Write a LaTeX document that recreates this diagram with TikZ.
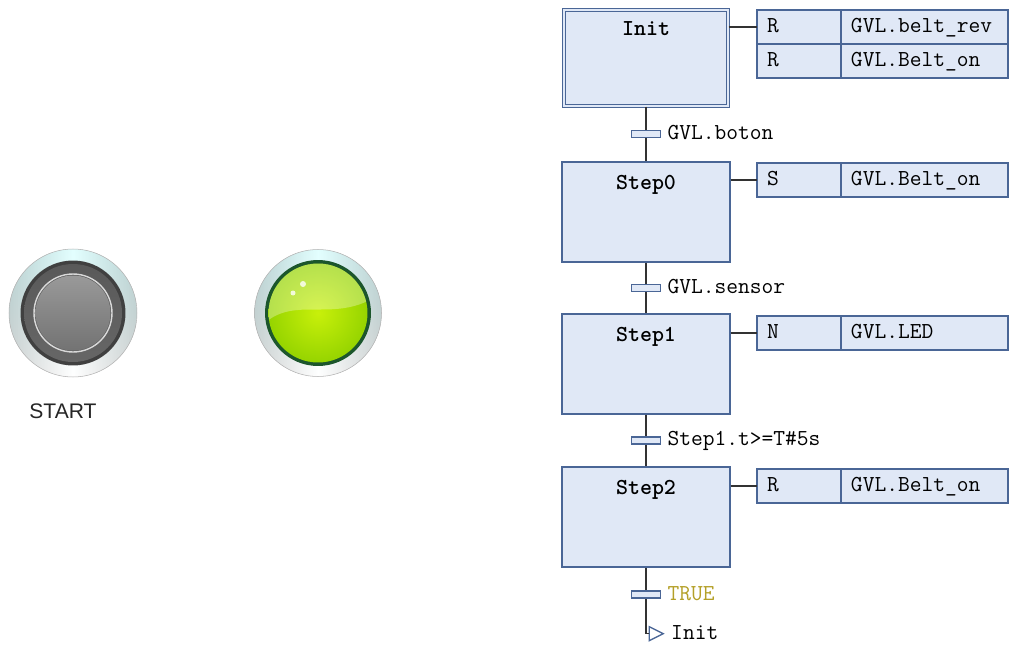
\documentclass[tikz,border=0pt]{standalone}
\usepackage{fontspec}
\setmainfont{Liberation Sans}
\setsansfont{Liberation Sans}
\usepackage{tikz}
\usetikzlibrary{arrows.meta, positioning, shapes.geometric, calc}
\definecolor{sfcfill}{RGB}{224,232,246}
\definecolor{sfcline}{RGB}{74,102,150}
\definecolor{wirecol}{RGB}{50,50,50}
\definecolor{truecol}{RGB}{180,160,40}
\definecolor{leddark}{RGB}{28,86,44}
\definecolor{ledmid}{RGB}{200,240,10}
\definecolor{lededge}{RGB}{150,212,0}
\newcommand{\acttext}{\ttfamily\fontsize{13}{15}\selectfont}

\begin{document}
\begin{tikzpicture}[x=0.02cm, y=-0.02cm,
  stepbox/.style={draw=sfcline, line width=0.8pt, fill=sfcfill, minimum width=3.36cm, minimum height=2cm, inner sep=0pt},
  initbox/.style={stepbox, line width=0.75pt, double=sfcfill, double distance=0.9pt, minimum width=3.28cm, minimum height=1.92cm},
  stepname/.style={font=\acttext\bfseries, text=black, inner sep=0pt, anchor=base},
  qual/.style={draw=sfcline, line width=0.7pt, fill=sfcfill, minimum height=0.68cm, text width=1.28cm, inner xsep=0.2cm, inner ysep=0pt, outer sep=0pt, align=left, font=\acttext, text=black, text height=1.6ex, text depth=0.45ex},
  actname/.style={qual, text width=2.94cm},
  trans/.style={draw=sfcline, line width=0.8pt, fill=sfcfill, minimum width=0.58cm, minimum height=0.14cm, inner sep=0pt},
  translabel/.style={font=\acttext, text=black, inner sep=0pt, anchor=west, text height=1.6ex, text depth=0.45ex},
  jumptri/.style={isosceles triangle, isosceles triangle stretches, draw=sfcline, line width=0.75pt, fill=white, minimum width=0.28cm, minimum height=0.28cm, inner sep=0pt},
  wire/.style={draw=wirecol, line width=0.9pt}
]
  \useasboundingbox (0,0) rectangle (1010,645);

  % START push button
  \shade[left color=gray!65, right color=gray!65, middle color=white] (73,313) circle [radius=1.28cm];
  \shade[top color=cyan!25!white, bottom color=white, opacity=0.45] (73,313) circle [radius=1.28cm];
  \draw[gray!60, line width=0.3pt] (73,313) circle [radius=1.28cm];
  \fill[black!75] (73,313) circle [radius=1.05cm];
  \shade[top color=gray!70!black, bottom color=gray!80!black] (73,313) circle [radius=0.98cm];
  \draw[gray!30, line width=0.8pt] (73,313) circle [radius=0.78cm];
  \shade[top color=gray!80, bottom color=gray!90!black] (73,313) circle [radius=0.75cm];
  \node[font=\sffamily\fontsize{12}{14}\selectfont, text=black!85] (startl) at (63,411) {START};

  % Green lamp
  \shade[left color=gray!65, right color=gray!65, middle color=white] (318,313) circle [radius=1.27cm];
  \shade[top color=cyan!25!white, bottom color=white, opacity=0.45] (318,313) circle [radius=1.27cm];
  \draw[gray!60, line width=0.3pt] (318,313) circle [radius=1.27cm];
  \fill[leddark] (318,313) circle [radius=1.06cm];
  \shade[inner color=ledmid, outer color=lededge] (318,313) circle [radius=0.99cm];
  \begin{scope}
    \clip (318,313) circle [radius=0.99cm];
    \fill[white, opacity=0.3] (266,322) .. controls (295,298) and (330,320) .. (370,300) -- (370,250) -- (266,250) -- cycle;
  \end{scope}
  \fill[white, opacity=0.8] (293,293) circle [radius=0.05cm];
  \fill[white, opacity=0.8] (303,284) circle [radius=0.06cm];

  % Steps
  \node[initbox] (init) at (646,58) {};
  \node[stepname] (initn) at ([yshift=-0.52cm]init.north) {Init};
  \node[stepbox] (s0) at (646,212) {};
  \node[stepname] (s0n) at ([yshift=-0.57cm]s0.north) {Step0};
  \node[stepbox] (s1) at (646,364) {};
  \node[stepname] (s1n) at ([yshift=-0.57cm]s1.north) {Step1};
  \node[stepbox] (s2) at (646,517) {};
  \node[stepname] (s2n) at ([yshift=-0.57cm]s2.north) {Step2};

  % Actions
  \node[qual, anchor=north west] (ia1) at (757,10) {R};
  \node[actname, right=0pt of ia1] (ia1v) {GVL.belt\_rev};
  \node[qual, below=0pt of ia1] (ia2) {R};
  \node[actname, right=0pt of ia2] (ia2v) {GVL.Belt\_on};
  \node[qual, anchor=north west] (a0) at (757,163) {S};
  \node[actname, right=0pt of a0] (a0v) {GVL.Belt\_on};
  \node[qual, anchor=north west] (a1) at (757,316) {N};
  \node[actname, right=0pt of a1] (a1v) {GVL.LED};
  \node[qual, anchor=north west] (a2) at (757,469) {R};
  \node[actname, right=0pt of a2] (a2v) {GVL.Belt\_on};
  \draw[wire] (init.east |- ia1.west) -- (ia1.west);
  \draw[wire] (s0.east |- a0.west) -- (a0.west);
  \draw[wire] (s1.east |- a1.west) -- (a1.west);
  \draw[wire] (s2.east |- a2.west) -- (a2.west);

  % Links and transitions
  \coordinate (jmp) at ([yshift=-1.32cm]s2.south);
  \draw[wire] (init.south) -- (s0.north);
  \draw[wire] (s0.south) -- (s1.north);
  \draw[wire] (s1.south) -- (s2.north);
  \node[jumptri, anchor=west] (jt) at ([xshift=0.05cm]jmp) {};
  \draw[wire] (s2.south) -- (jmp) -- (jt.west);
  \node[trans] (t0) at ($(init.south)!0.5!(s0.north)$) {};
  \node[translabel, right=0.12cm of t0] (t0l) {GVL.boton};
  \node[trans] (t1) at ($(s0.south)!0.5!(s1.north)$) {};
  \node[translabel, right=0.12cm of t1] (t1l) {GVL.sensor};
  \node[trans] (t2) at ($(s1.south)!0.5!(s2.north)$) {};
  \node[translabel, right=0.12cm of t2] (t2l) {Step1.t>=T\#5s};
  \node[trans] (t3) at ([yshift=-0.54cm]s2.south) {};
  \node[translabel, text=truecol, right=0.12cm of t3] (t3l) {TRUE};
  \node[translabel, right=0.12cm of jt] (jtl) {Init};
\end{tikzpicture}
\end{document}
